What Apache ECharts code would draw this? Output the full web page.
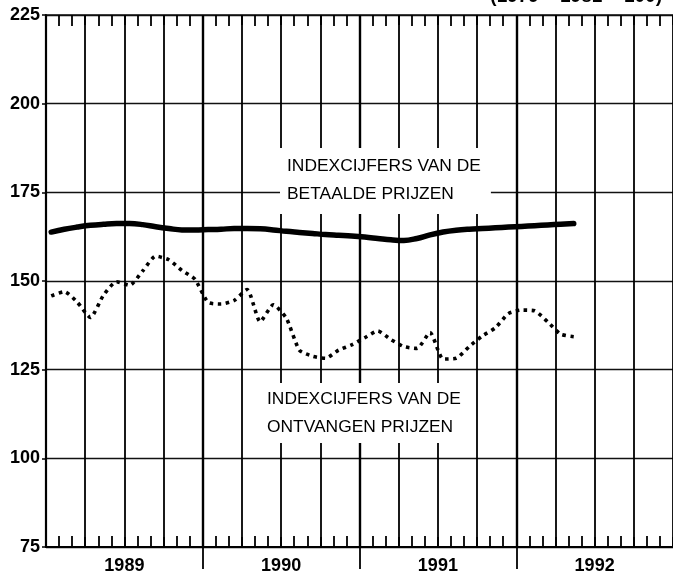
<!DOCTYPE html>
<html>
<head>
<meta charset="utf-8">
<script src="https://cdn.jsdelivr.net/npm/echarts@6/dist/echarts.min.js"></script>
<style>
  html, body { margin: 0; padding: 0; background: #fff; }
  #chart { width: 673px; height: 578px; }
</style>
</head>
<body>
<div id="chart"></div>
<script>
const years = ['1989', '1990', '1991', '1992'];

// maandcijfers, januari 1989 t/m mei 1992
const paidPrices = [163.8, 164.6, 165.2, 165.7, 166.0, 166.2, 166.2, 165.9, 165.3, 164.8, 164.4, 164.4,
  164.5, 164.6, 164.8, 164.8, 164.7, 164.4, 164.0, 163.7, 163.4, 163.1, 162.9, 162.7,
  162.4, 162.0, 161.6, 161.4, 162.0, 163.0, 163.8, 164.3, 164.6, 164.8, 165.0, 165.2,
  165.4, 165.6, 165.8, 166.0, 166.2];

const receivedPrices = [145.8, 147.0, 144.0, 139.7, 146.0, 149.8, 148.8, 152.8, 157.0, 156.0, 153.0, 150.5,
  144.0, 143.5, 144.5, 147.6, 138.5, 143.3, 139.5, 130.5, 128.8, 128.2, 130.5, 132.0,
  134.0, 135.9, 133.5, 131.5, 131.0, 135.5, 128.0, 128.2, 131.5, 134.5, 136.8, 140.8,
  141.8, 141.6, 138.5, 135.0, 134.3];

// x = maanden sinds jan 1989, punt in het midden van de maand
function toPoints(values) {
  return values.map((v, i) => [i + 0.4, v]);
}

const labelFont = { fontFamily: 'Liberation Sans, Arial, sans-serif', fontWeight: 'bold', fontSize: 18, color: '#000' };

const chart = echarts.init(document.getElementById('chart'));

chart.setOption({
  backgroundColor: '#fff',
  animation: false,
  grid: { left: 46, right: -5, top: 15, bottom: 31 },
  xAxis: [
    {
      type: 'value',
      min: 0,
      max: 48,
      interval: 3,
      position: 'bottom',
      axisLine: { show: true, lineStyle: { color: '#000', width: 2.2 } },
      axisTick: { show: true, inside: true, length: 10, lineStyle: { color: '#000', width: 1.8 } },
      minorTick: { show: true, splitNumber: 3, length: 11, lineStyle: { color: '#000', width: 1.8 } },
      axisLabel: { show: false },
      splitLine: { show: true, lineStyle: { color: '#000', width: 1.8 } },
    },
    {
      type: 'value',
      min: 0,
      max: 48,
      interval: 12,
      position: 'bottom',
      axisLine: { show: false },
      axisTick: { show: true, customValues: [12, 24, 36], length: 22, lineStyle: { color: '#000', width: 1.8 } },
      axisLabel: {
        ...labelFont,
        margin: 10,
        customValues: [6, 18, 30, 42],
        formatter: (v) => years[Math.round((v - 6) / 12)],
      },
      splitLine: { show: true, lineStyle: { color: '#000', width: 2.4 } },
    },
    {
      type: 'value',
      min: 0,
      max: 48,
      interval: 3,
      position: 'top',
      axisLine: { show: true, lineStyle: { color: '#111', width: 1.6 } },
      axisTick: { show: true, inside: true, length: 10, lineStyle: { color: '#000', width: 1.8 } },
      minorTick: { show: true, splitNumber: 3, length: 11, lineStyle: { color: '#000', width: 1.8 } },
      axisLabel: { show: false },
      splitLine: { show: false },
    },
  ],
  yAxis: {
    type: 'value',
    min: 75,
    max: 225,
    interval: 25,
    axisLine: { show: true, lineStyle: { color: '#000', width: 2.2 } },
    axisTick: { show: true, length: 4, lineStyle: { color: '#000', width: 1.5 } },
    axisLabel: { ...labelFont, margin: 6 },
    splitLine: { show: true, lineStyle: { color: '#111', width: 1.4 } },
  },
  graphic: [
    {
      type: 'text',
      x: 662,
      y: -3,
      z: 10,
      style: {
        text: '(1979 – 1981 = 100)',
        font: 'bold 19px "Liberation Sans", Arial, sans-serif',
        fill: '#000',
        align: 'right',
        verticalAlign: 'middle',
      },
    },
    {
      type: 'text',
      x: 280,
      y: 148,
      z: 10,
      style: {
        text: 'INDEXCIJFERS VAN DE\nBETAALDE PRIJZEN',
        font: '17.4px "Liberation Sans", Arial, sans-serif',
        fill: '#000',
        lineHeight: 28,
        backgroundColor: '#fff',
        padding: [4, 10, 6, 7],
        align: 'left',
        verticalAlign: 'top',
      },
    },
    {
      type: 'text',
      x: 262,
      y: 383,
      z: 10,
      style: {
        text: 'INDEXCIJFERS VAN DE\nONTVANGEN PRIJZEN',
        font: '17.4px "Liberation Sans", Arial, sans-serif',
        fill: '#000',
        lineHeight: 28,
        backgroundColor: '#fff',
        padding: [2, 8, 2, 5],
        align: 'left',
        verticalAlign: 'top',
      },
    },
  ],
  series: [
    {
      name: 'Betaalde prijzen',
      type: 'line',
      xAxisIndex: 0,
      data: toPoints(paidPrices),
      smooth: 0.4,
      symbol: 'none',
      lineStyle: { color: '#000', width: 5.5, cap: 'round' },
      z: 5,
    },
    {
      name: 'Ontvangen prijzen',
      type: 'line',
      xAxisIndex: 0,
      data: toPoints(receivedPrices),
      smooth: 0.2,
      symbol: 'none',
      lineStyle: { color: '#000', width: 3.6, type: [3.5, 4.5] },
      z: 5,
    },
  ],
});
</script>
</body>
</html>
